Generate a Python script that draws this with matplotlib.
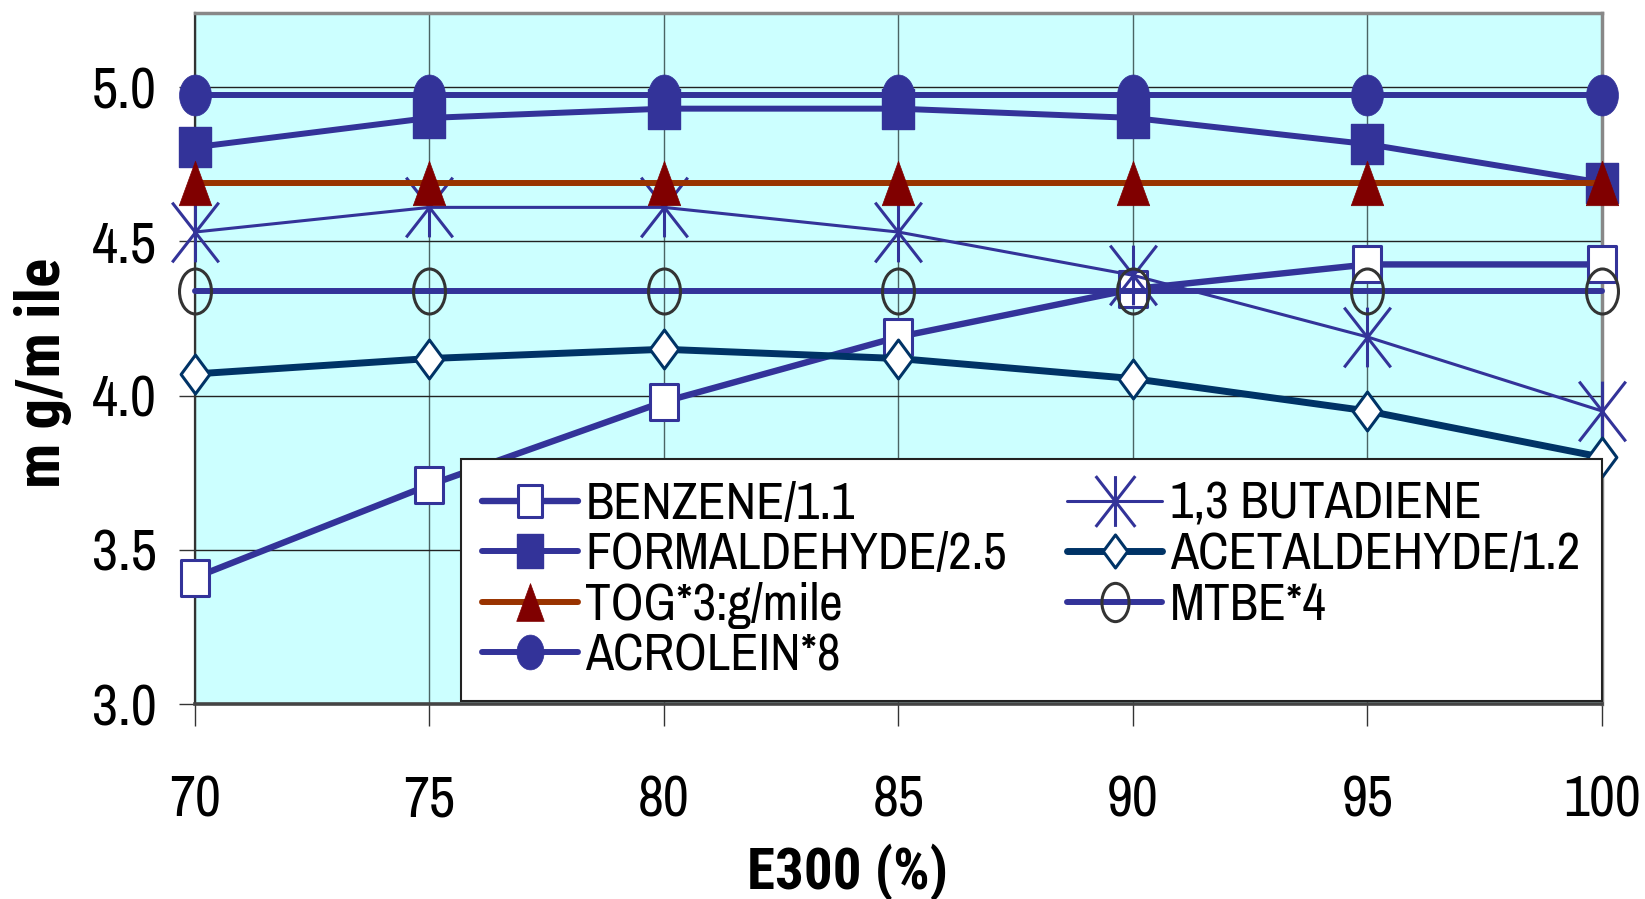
import numpy as np
import matplotlib
matplotlib.use("Agg")
import matplotlib.pyplot as plt
from matplotlib.path import Path
from matplotlib.transforms import Affine2D
from matplotlib import font_manager as fm

# ---------------- data ----------------
e300 = [70, 75, 80, 85, 90, 95, 100]
benzene = [3.41, 3.71, 3.98, 4.19, 4.345, 4.425, 4.425]
butadiene = [4.53, 4.61, 4.61, 4.53, 4.39, 4.19, 3.95]
formaldehyde = [4.805, 4.90, 4.93, 4.93, 4.90, 4.815, 4.69]
acetaldehyde = [4.07, 4.12, 4.15, 4.12, 4.055, 3.95, 3.80]
tog = [4.69, 4.69, 4.69, 4.69, 4.69, 4.69, 4.69]
mtbe = [4.34, 4.34, 4.34, 4.34, 4.34, 4.34, 4.34]
acrolein = [4.975, 4.975, 4.975, 4.975, 4.975, 4.975, 4.975]

labels = {
    "benzene": "BENZENE/1.1",
    "butadiene": "1,3 BUTADIENE",
    "formaldehyde": "FORMALDEHYDE/2.5",
    "acetaldehyde": "ACETALDEHYDE/1.2",
    "tog": "TOG*3:g/mile",
    "mtbe": "MTBE*4",
    "acrolein": "ACROLEIN*8",
}
yticks = [3.0, 3.5, 4.0, 4.5, 5.0]
xticks = [70, 75, 80, 85, 90, 95, 100]

# ---------------- fonts (narrow, Arial-Narrow-like) ----------------
def _w(f):
    w = f.weight
    if isinstance(w, str):
        return 700 if "bold" in w.lower() else 400
    return int(w)

def pick(cands, bold=False):
    for name in cands:
        for f in fm.fontManager.ttflist:
            if f.name == name and (not bold or _w(f) >= 700):
                return name
    return "Liberation Sans"

REG = pick(["Archivo Narrow", "PT Sans Narrow", "Roboto Condensed", "Asap Condensed"])
BOLD = pick(["Roboto Condensed", "PT Sans Narrow", "Asap Condensed", "Barlow Semi Condensed"], bold=True)
plt.rcParams["font.family"] = [REG, "DejaVu Sans"]

# ---------------- marker shapes (taller than wide) ----------------
def ellipse(a):
    return Affine2D().scale(a, 1.0).transform_path(Path.unit_circle())

def rect(a):
    return Path([(-a, -1), (a, -1), (a, 1), (-a, 1), (-a, -1)],
                [Path.MOVETO, Path.LINETO, Path.LINETO, Path.LINETO, Path.CLOSEPOLY])

def tri(a):
    return Path([(0, 1), (-a, -1), (a, -1), (0, 1)],
                [Path.MOVETO, Path.LINETO, Path.LINETO, Path.CLOSEPOLY])

def diamond(a):
    return Path([(0, 1), (-a, 0), (0, -1), (a, 0), (0, 1)],
                [Path.MOVETO, Path.LINETO, Path.LINETO, Path.LINETO, Path.CLOSEPOLY])

def star(a):
    return Path([(0, -1), (0, 1), (-a, -1), (a, 1), (-a, 1), (a, -1)],
                [Path.MOVETO, Path.LINETO, Path.MOVETO, Path.LINETO, Path.MOVETO, Path.LINETO])

BLUE = "#333399"
NAVY = "#003366"
RUST = "#993300"
MAROON = "#800000"

fig = plt.figure(figsize=(16.45, 8.99), dpi=100)
ax = fig.add_axes([0.1185, 0.2169, 0.8553, 0.7686])
ax.set_facecolor("#CCFFFF")

common = dict(clip_on=False, solid_capstyle="round", solid_joinstyle="round")

l_benz, = ax.plot(e300, benzene, color=BLUE, lw=4.6, marker=rect(0.75), ms=26.6,
                  mfc="white", mec=BLUE, mew=2.2, zorder=3, label=labels["benzene"], **common)
l_buta, = ax.plot(e300, butadiene, color=BLUE, lw=2.2, marker=star(0.78), ms=43,
                  mfc="none", mec=BLUE, mew=2.2, zorder=4, label=labels["butadiene"], **common)
l_form, = ax.plot(e300, formaldehyde, color=BLUE, lw=4.3, marker=rect(0.78), ms=28.8,
                  mfc=BLUE, mec=BLUE, mew=1, zorder=5, label=labels["formaldehyde"], **common)
l_acet, = ax.plot(e300, acetaldehyde, color=NAVY, lw=5.0, marker=diamond(0.74), ms=28,
                  mfc="white", mec=NAVY, mew=2.2, zorder=6, label=labels["acetaldehyde"], **common)
l_tog, = ax.plot(e300, tog, color=RUST, lw=4.3, marker=tri(0.73), ms=32,
                 mfc=MAROON, mec=MAROON, mew=0.5, zorder=7, label=labels["tog"], **common)
l_mtbe, = ax.plot(e300, mtbe, color=BLUE, lw=4.3, marker=ellipse(0.71), ms=32.4,
                  mfc="none", mec="#333333", mew=2.2, zorder=8, label=labels["mtbe"], **common)
l_acro, = ax.plot(e300, acrolein, color=BLUE, lw=4.3, marker=ellipse(0.78), ms=29.5,
                  mfc=BLUE, mec=BLUE, mew=0.5, zorder=9, label=labels["acrolein"], **common)

ax.set_xlim(70, 100)
ax.set_ylim(3.0, 5.24)
ax.set_xticks(xticks)
ax.set_xticklabels([str(v) for v in xticks])
ax.set_yticks(yticks)
ax.set_yticklabels([f"{v:.1f}" for v in yticks])

ax.grid(True, which="major", axis="y", color="#222222", lw=1.0)
ax.grid(True, which="major", axis="x", color="#4a6464", lw=1.0)
ax.set_axisbelow(True)

for s in ("top", "right"):
    ax.spines[s].set_color("#888888")
    ax.spines[s].set_linewidth(2.5)
ax.spines["left"].set_color("#333333")
ax.spines["left"].set_linewidth(1.6)
ax.spines["bottom"].set_color("#444444")
ax.spines["bottom"].set_linewidth(2.6)

ax.tick_params(axis="y", direction="out", length=11.5, width=1.0, color="#333333",
               labelsize=41, pad=16)
ax.tick_params(axis="x", direction="out", length=16, width=1.0, color="#333333",
               labelsize=41, pad=35)

ax.set_xlabel("E300 (%)", fontsize=41, family=[BOLD, "DejaVu Sans"], fontweight="bold",
              va="center", ha="center")
ax.xaxis.set_label_coords(0.464, -0.244)
ax.set_ylabel("m g/m ile", fontsize=44, family=[BOLD, "DejaVu Sans"], fontweight="bold",
              va="center", ha="center", rotation=90)
ax.yaxis.set_label_coords(-0.108, 0.479)

handles = [l_benz, l_form, l_tog, l_acro, l_buta, l_acet, l_mtbe]
leg = ax.legend(handles=handles, labels=[h.get_label() for h in handles],
                ncol=2, loc="upper left", bbox_to_anchor=(0.189, 0.0, 0.811, 0.3546),
                mode="expand", borderaxespad=0, fontsize=37, frameon=True,
                fancybox=False, framealpha=1, edgecolor="#222222", facecolor="white",
                markerscale=0.85, handlelength=1.85, handletextpad=0.15,
                labelspacing=0.07, borderpad=0.42, columnspacing=1.0)
leg.get_frame().set_linewidth(1.5)
leg.set_zorder(20)

fig.savefig("out.png", dpi=100)
